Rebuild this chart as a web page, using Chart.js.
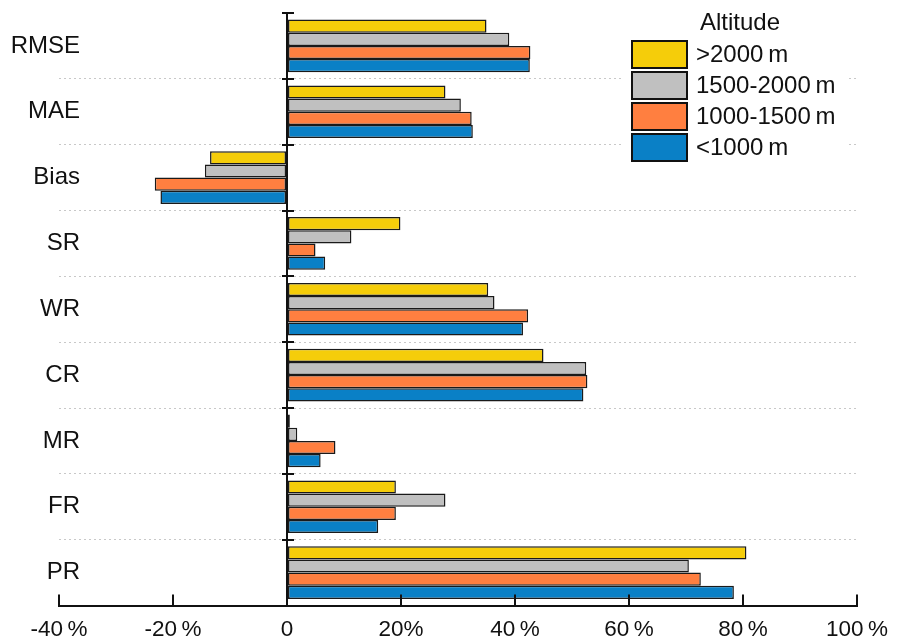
<!DOCTYPE html>
<html>
<head>
<meta charset="utf-8">
<script src="https://cdn.jsdelivr.net/npm/chart.js@4"></script>
<style>
html,body{margin:0;padding:0;background:#fff;}
#wrap{width:904px;height:640px;}
</style>
</head>
<body>
<div id="wrap"><canvas id="c" width="904" height="640"></canvas></div>
<script>
const categories = ['RMSE','MAE','Bias','SR','WR','CR','MR','FR','PR'];
const seriesNames = ['>2000\u2009m','1500-2000\u2009m','1000-1500\u2009m','<1000\u2009m'];
const above2000 = [35.0, 27.8, -13.5, 19.9, 35.3, 45.0, 0.5, 19.1, 80.6];
const from1500to2000 = [39.0, 30.5, -14.4, 11.3, 36.4, 52.5, 1.8, 27.8, 70.5];
const from1000to1500 = [42.7, 32.4, -23.2, 5.0, 42.3, 52.7, 8.5, 19.1, 72.6];
const below1000 = [42.6, 32.6, -22.2, 6.7, 41.4, 52.0, 5.9, 16.0, 78.4];
const tickLabels = ['-40\u2009%','-20\u2009%','0','20%','40\u2009%','60\u2009%','80\u2009%','100\u2009%'];
const legendTitle = 'Altitude';
const colors = ['#F5CD0A','#C0C0C0','#FF7F40','#0A80C6'];

const FONT = "'Liberation Sans', Arial, sans-serif";
Chart.defaults.font.family = FONT;
Chart.defaults.color = '#111';

const seriesValues = [above2000, from1500to2000, from1000to1500, below1000];

// measure widest category label so labels can be right-aligned at x=80
const mctx = document.createElement('canvas').getContext('2d');
mctx.font = '24px ' + FONT;
const widestCat = Math.max(...categories.map(c => mctx.measureText(c).width));
const catPad = 80 - 59 - widestCat;

const extras = {
  id: 'extras',
  afterDraw(chart) {
    const ctx = chart.ctx;
    const xs = chart.scales.x, ys = chart.scales.y;
    const area = chart.chartArea;
    ctx.save();
    ctx.strokeStyle = '#111';
    ctx.lineWidth = 2;
    xs.ticks.forEach(t => {
      const px = Math.round(xs.getPixelForValue(t.value));
      ctx.beginPath();
      ctx.moveTo(px, area.bottom);
      ctx.lineTo(px, area.bottom - 11);
      ctx.stroke();
    });
    const x0 = xs.getPixelForValue(0);
    const half = (ys.getPixelForValue(1) - ys.getPixelForValue(0)) / 2;
    for (let i = 0; i < categories.length; i++) {
      const py = Math.round(ys.getPixelForValue(i) - half);
      ctx.beginPath();
      ctx.moveTo(x0 - 5, py);
      ctx.lineTo(x0 + 7, py);
      ctx.stroke();
    }
    // legend
    ctx.fillStyle = '#fff';
    ctx.fillRect(622, 0, 224, 166);
    ctx.fillStyle = '#111';
    ctx.font = '24px ' + FONT;
    ctx.textAlign = 'center';
    ctx.textBaseline = 'middle';
    ctx.fillText(legendTitle, 740, 23);
    ctx.textAlign = 'left';
    seriesNames.forEach((n, i) => {
      const by = 41 + i * 31;
      ctx.fillStyle = colors[i];
      ctx.fillRect(632, by, 55, 27);
      ctx.strokeStyle = '#111';
      ctx.lineWidth = 2;
      ctx.strokeRect(632, by, 55, 27);
      ctx.fillStyle = '#111';
      ctx.fillText(n, 696, by + 14.5);
    });
    ctx.restore();
  }
};

new Chart(document.getElementById('c'), {
  type: 'bar',
  data: {
    labels: categories,
    datasets: seriesValues.map((vals, i) => ({
      label: seriesNames[i],
      data: vals,
      backgroundColor: colors[i],
      borderColor: '#1a1a1a',
      borderWidth: 1.5,
      borderSkipped: false,
      categoryPercentage: 0.8,
      barPercentage: 1.0
    }))
  },
  options: {
    indexAxis: 'y',
    responsive: false,
    animation: false,
    layout: { padding: { left: 59, right: 47, top: 13, bottom: -14 } },
    plugins: { legend: { display: false }, tooltip: { enabled: false } },
    scales: {
      x: {
        min: -40, max: 100,
        ticks: {
          stepSize: 20,
          padding: 13,
          font: { size: 22.5, lineHeight: 1 },
          color: '#111',
          maxRotation: 0,
          autoSkip: false,
          callback: (v, i) => tickLabels[i]
        },
        grid: {
          drawTicks: false,
          color: (c) => (c.tick && c.tick.value === 0) ? '#111' : 'rgba(0,0,0,0)',
          lineWidth: 2
        },
        border: { display: true, color: '#111', width: 2 }
      },
      y: {
        afterFit(scale) { scale.width = 0; },
        ticks: {
          mirror: true,
          crossAlign: 'far',
          padding: catPad,
          font: { size: 24 },
          color: '#111'
        },
        grid: {
          drawTicks: false,
          color: (c) => (c.type !== 'tick' || c.index === 0) ? 'rgba(0,0,0,0)' : '#c8c8c8',
          lineWidth: 1
        },
        border: { display: false, dash: [2, 3] }
      }
    }
  },
  plugins: [extras]
});
</script>
</body>
</html>
